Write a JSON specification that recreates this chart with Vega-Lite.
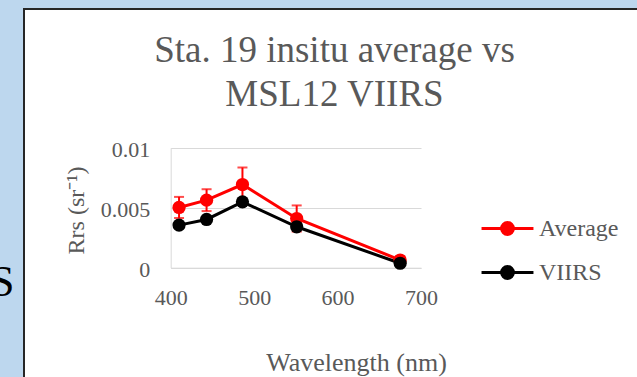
{
  "$schema": "https://vega.github.io/schema/vega-lite/v6.json",
  "width": 613,
  "height": 368,
  "autosize": "none",
  "padding": {"left": 24, "top": 9, "right": 0, "bottom": 0},
  "background": "#BDD7EE",
  "title": {
    "text": ["Sta. 19 insitu average vs", "MSL12 VIIRS"],
    "font": "Liberation Serif",
    "fontSize": 37,
    "fontWeight": "normal",
    "color": "#595959",
    "anchor": "middle",
    "frame": "group",
    "baseline": "alphabetic",
    "lineHeight": 44,
    "offset": 0,
    "dx": 4,
    "dy": 134
  },
  "data": {
    "values": [
      {"wl": 410, "series": "Average", "value": 0.00502, "lo": 0.00414, "hi": 0.0059},
      {"wl": 443, "series": "Average", "value": 0.00563, "lo": 0.00472, "hi": 0.00654},
      {"wl": 486, "series": "Average", "value": 0.00693, "lo": 0.00551, "hi": 0.00835},
      {"wl": 551, "series": "Average", "value": 0.0041, "lo": 0.00301, "hi": 0.00519},
      {"wl": 675, "series": "Average", "value": 0.00064, "lo": 0.0005, "hi": 0.0009},
      {"wl": 410, "series": "VIIRS", "value": 0.00355},
      {"wl": 443, "series": "VIIRS", "value": 0.00402},
      {"wl": 486, "series": "VIIRS", "value": 0.00549},
      {"wl": 551, "series": "VIIRS", "value": 0.00341},
      {"wl": 675, "series": "VIIRS", "value": 0.00037}
    ]
  },
  "encoding": {
    "x": {
      "field": "wl",
      "type": "quantitative",
      "scale": {"domain": [400, 700], "range": [146.7, 397], "nice": false, "zero": false},
      "axis": {
        "orient": "bottom",
        "offset": -109.3,
        "values": [400, 500, 600, 700],
        "format": "d",
        "grid": false,
        "ticks": false,
        "domain": true,
        "domainColor": "#D9D9D9",
        "domainWidth": 1,
        "labelFontSize": 22,
        "labelPadding": 20,
        "labelFlush": false,
        "labelOverlap": false,
        "title": "Wavelength (nm)",
        "titleFontSize": 26,
        "titleX": 332,
        "titleY": 103,
        "titleAlign": "center",
        "titleBaseline": "alphabetic",
        "titleAngle": 0
      }
    },
    "color": {
      "field": "series",
      "type": "nominal",
      "scale": {"domain": ["Average", "VIIRS"], "range": ["#FF0000", "#000000"]},
      "legend": {
        "orient": "none",
        "legendX": 470,
        "legendY": 206,
        "title": null,
        "padding": 0,
        "symbolType": "M-2.2,0L2.2,0M-0.5,0A0.5,0.5,0,1,0,0.5,0A0.5,0.5,0,1,0,-0.5,0Z",
        "symbolSize": 557,
        "symbolStrokeWidth": 3,
        "labelFont": "Liberation Serif",
        "labelFontSize": 24,
        "labelColor": "#595959",
        "labelOffset": 18,
        "rowPadding": 18,
        "encode": {
          "symbols": {
            "update": {
              "fill": {"scale": "color", "field": "value"},
              "stroke": {"scale": "color", "field": "value"},
              "strokeWidth": {"value": 3},
              "opacity": {"value": 1}
            }
          }
        }
      }
    }
  },
  "resolve": {"axis": {"y": "independent"}},
  "layer": [
    {
      "transform": [{"filter": "datum.series === 'Average'"}],
      "mark": {"type": "rule", "strokeWidth": 2},
      "encoding": {
        "y": {
          "field": "lo",
          "type": "quantitative",
          "scale": {"domain": [0, 0.01], "range": [258.7, 138.7], "nice": false, "zero": true},
          "axis": {
            "orient": "left",
            "offset": -146.7,
            "values": [0, 0.005, 0.01],
            "format": "~g",
            "grid": true,
            "gridColor": "#D9D9D9",
            "gridWidth": 1,
            "ticks": false,
            "domain": true,
            "domainColor": "#D9D9D9",
            "domainWidth": 1,
            "labelFontSize": 22,
            "labelPadding": 21,
            "labelOffset": 2,
            "title": "Rrs (sr⁻¹)",
            "titleFontSize": 24,
            "titleAngle": -90,
            "titleX": -94.7,
            "titleY": 201,
            "titleAlign": "center",
            "titleBaseline": "middle"
          }
        },
        "y2": {"field": "hi"},
        "color": {"value": "#FF0000"}
      }
    },
    {
      "transform": [{"filter": "datum.series === 'Average'"}],
      "mark": {"type": "tick", "orient": "horizontal", "size": 10, "thickness": 2},
      "encoding": {
        "y": {"field": "hi", "type": "quantitative", "scale": {"domain": [0, 0.01], "range": [258.7, 138.7], "nice": false}, "axis": null},
        "color": {"value": "#FF0000"}
      }
    },
    {
      "transform": [{"filter": "datum.series === 'Average'"}],
      "mark": {"type": "tick", "orient": "horizontal", "size": 10, "thickness": 2},
      "encoding": {
        "y": {"field": "lo", "type": "quantitative", "scale": {"domain": [0, 0.01], "range": [258.7, 138.7], "nice": false}, "axis": null},
        "color": {"value": "#FF0000"}
      }
    },
    {
      "mark": {"type": "line", "strokeWidth": 3},
      "encoding": {
        "y": {"field": "value", "type": "quantitative", "scale": {"domain": [0, 0.01], "range": [258.7, 138.7], "nice": false}, "axis": null}
      }
    },
    {
      "mark": {"type": "point", "filled": true, "size": 175, "opacity": 1, "shape": "circle"},
      "encoding": {
        "y": {
          "field": "value",
          "type": "quantitative",
          "scale": {"domain": [0, 0.01], "range": [258.7, 138.7], "nice": false},
          "axis": {
            "orient": "right",
            "labels": false,
            "ticks": false,
            "domain": false,
            "grid": false,
            "title": "S",
            "titleFont": "Liberation Serif",
            "titleFontSize": 45,
            "titleFontWeight": "normal",
            "titleColor": "#000000",
            "titleAngle": 0,
            "titleX": -623,
            "titleY": 286,
            "titleAlign": "right",
            "titleBaseline": "alphabetic"
          }
        }
      }
    }
  ],
  "config": {
    "font": "Liberation Serif",
    "view": {"fill": "#FFFFFF", "stroke": "#262626", "strokeWidth": 2, "strokeDash": [613, 981, 368]},
    "axis": {
      "labelFont": "Liberation Serif",
      "titleFont": "Liberation Serif",
      "titleFontWeight": "normal",
      "labelColor": "#595959",
      "titleColor": "#595959"
    }
  }
}
